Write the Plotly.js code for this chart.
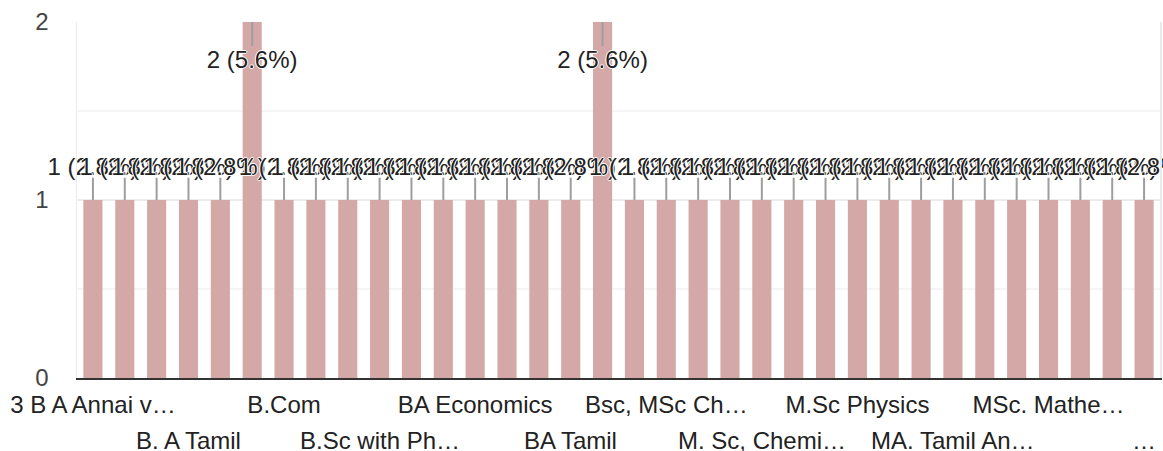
<!DOCTYPE html>
<html>
<head>
<meta charset="utf-8">
<script src="https://cdn.plot.ly/plotly-3.0.1.min.js"></script>
<style>html,body{margin:0;padding:0;background:#fff;}#chart{width:1163px;height:451px;}</style>
</head>
<body>
<div id="chart"></div>
<script>
// Categories (alphabetical, as in the source form summary); only every third label is visible
const categories = [
  "3 B A Annai v…", "B. A English", "B. A History", "B. A Tamil", "B. Sc Mathematics",
  "B.A Tamil", "B.Com", "B.Sc Chemistry", "B.Sc Mathematics", "B.Sc with Ph…",
  "B.Sc Zoology", "BA B.Ed", "BA Economics", "BA English", "BA History",
  "BA Tamil", "BBA", "BSc Chemistry", "Bsc, MSc Ch…", "M. A English",
  "M. A Tamil", "M. Sc, Chemi…", "M.A Economics", "M.Com", "M.Sc Physics",
  "MA English", "MA Tamil", "MA. Tamil An…", "MBA", "MSc Chemistry",
  "MSc. Mathe…", "Msc Physics", "Ph.D Tamil", "…"
];
const counts = [
  1, 1, 1, 1, 1,
  2, 1, 1, 1, 1,
  1, 1, 1, 1, 1,
  1, 2, 1, 1, 1,
  1, 1, 1, 1, 1,
  1, 1, 1, 1, 1,
  1, 1, 1, 1
];
const row1Ticks = ["3 B A Annai v…", "B.Com", "BA Economics", "Bsc, MSc Ch…", "M.Sc Physics", "MSc. Mathe…"];
const row2Ticks = ["B. A Tamil", "B.Sc with Ph…", "BA Tamil", "M. Sc, Chemi…", "MA. Tamil An…", "…"];
const yTicks = [0, 1, 2];

const total = counts.reduce((a, b) => a + b, 0);
const yMax = 2;
const labels = counts.map(v => v + " (" + (v / total * 100).toFixed(1) + "%)");

// label placement: above bar if there is room, otherwise inside below top
const fitsAbove = v => v + 0.3 <= yMax;
const labelY = counts.map(v => fitsAbove(v) ? v + 0.175 : v - 0.225);
const lineX = [], lineY = [];
categories.forEach((c, i) => {
  const v = counts[i];
  lineX.push(c, c, null);
  if (fitsAbove(v)) lineY.push(v, v + 0.125, null);
  else lineY.push(v, v - 0.135, null);
});

const FONT = "Liberation Sans, Arial, sans-serif";
const halo = "1px 0 0 #fff, -1px 0 0 #fff, 0 1px 0 #fff, 0 -1px 0 #fff";

const traces = [
  {
    type: "bar", x: categories, y: counts,
    marker: {color: "#d3a8a7"}, hoverinfo: "none"
  },
  {
    type: "scatter", mode: "lines", x: lineX, y: lineY,
    line: {color: "#9e9e9e", width: 2}, hoverinfo: "none", cliponaxis: false
  },
  {
    type: "scatter", mode: "text", x: categories, y: labelY, text: labels,
    textposition: "middle center",
    textfont: {family: FONT, size: 24, color: "#222", shadow: halo},
    hoverinfo: "none", cliponaxis: false
  }
];

const row1Vals = categories.filter(c => row1Ticks.includes(c));
const annotations = row2Ticks.map(t => ({
  x: t, xref: "x", y: 0, yref: "paper", yanchor: "middle", xanchor: "center",
  yshift: -62, text: t, showarrow: false,
  font: {family: FONT, size: 24, color: "#222"}
}));

const layout = {
  width: 1163, height: 451,
  margin: {l: 77, r: 3, t: 22, b: 73},
  paper_bgcolor: "#fff", plot_bgcolor: "#fff",
  showlegend: false, bargap: 0.4,
  font: {family: FONT, size: 24, color: "#222"},
  xaxis: {
    type: "category", categoryorder: "array", categoryarray: categories,
    range: [-0.5, categories.length - 0.5],
    tickmode: "array", tickvals: row1Vals, ticktext: row1Vals,
    tickangle: 0, ticks: "", showgrid: false,
    showline: true, linecolor: "#333", linewidth: 2,
    ticklabelstandoff: 4,
    tickfont: {family: FONT, size: 24, color: "#222"}
  },
  yaxis: {
    range: [0, yMax], tickmode: "array", tickvals: yTicks, ticktext: yTicks.map(String),
    showgrid: true, gridcolor: "#ebebeb", gridwidth: 1.5,
    minor: {dtick: 0.5, showgrid: true, gridcolor: "#f5f5f5", gridwidth: 1.5},
    zeroline: false, showline: true, linecolor: "#ebebeb", linewidth: 1.5, mirror: true,
    ticks: "", ticklabelstandoff: 22,
    tickfont: {family: FONT, size: 24, color: "#444"}
  },
  annotations: annotations
};

Plotly.newPlot("chart", traces, layout, {displayModeBar: false, staticPlot: true});
</script>
</body>
</html>
